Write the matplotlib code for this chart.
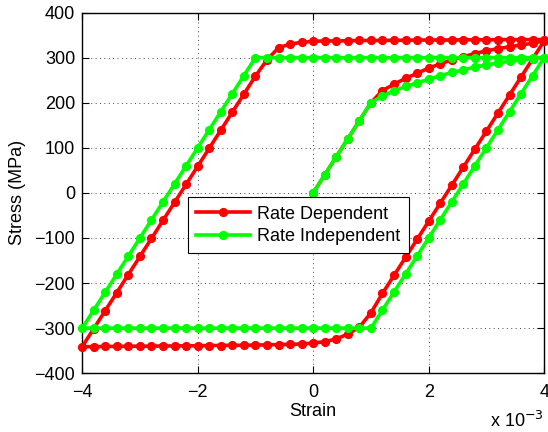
import numpy as np
import matplotlib
matplotlib.use("Agg")
import matplotlib.pyplot as plt

plt.rcParams['font.family'] = ['Liberation Sans', 'DejaVu Sans']

# strain history in units of 1e-3 (0 -> 4 -> -4 -> 4, step 0.2)
strain_up1 = [0.0, 0.2, 0.4, 0.6, 0.8, 1.0, 1.2, 1.4, 1.6, 1.8, 2.0,
              2.2, 2.4, 2.6, 2.8, 3.0, 3.2, 3.4, 3.6, 3.8, 4.0]
strain_down = [3.8, 3.6, 3.4, 3.2, 3.0, 2.8, 2.6, 2.4, 2.2, 2.0,
               1.8, 1.6, 1.4, 1.2, 1.0, 0.8, 0.6, 0.4, 0.2, 0.0,
               -0.2, -0.4, -0.6, -0.8, -1.0, -1.2, -1.4, -1.6, -1.8, -2.0,
               -2.2, -2.4, -2.6, -2.8, -3.0, -3.2, -3.4, -3.6, -3.8, -4.0]
strain_up2 = [-3.8, -3.6, -3.4, -3.2, -3.0, -2.8, -2.6, -2.4, -2.2, -2.0,
              -1.8, -1.6, -1.4, -1.2, -1.0, -0.8, -0.6, -0.4, -0.2, 0.0,
              0.2, 0.4, 0.6, 0.8, 1.0, 1.2, 1.4, 1.6, 1.8, 2.0,
              2.2, 2.4, 2.6, 2.8, 3.0, 3.2, 3.4, 3.6, 3.8, 4.0]

# rate dependent stress (MPa)
dep_up1 = [0, 40, 80, 120, 160, 200, 227, 241, 254, 265, 277,
           286, 295, 302, 309, 315, 320, 324, 328, 332, 337]
dep_down = [297, 257, 217, 177, 137, 97, 57, 17, -23, -63,
            -103, -143, -183, -223, -266, -298, -313, -324, -330, -333,
            -335, -336, -336.5, -337, -337.5, -338, -338, -338.5, -338.5, -339,
            -339, -339.5, -339.5, -340, -340, -340, -340.5, -340.5, -341, -341]
dep_up2 = [-301, -261, -221, -181, -141, -101, -61, -21, 19, 59,
           99, 139, 179, 219, 259, 295, 322, 330, 334, 336,
           337, 337, 337.5, 338, 338, 338, 338.5, 338.5, 339, 339,
           339, 339, 339.5, 339.5, 339.5, 340, 340, 340, 340, 340]

# rate independent stress (MPa)
ind_up1 = [0, 40, 80, 120, 160, 200, 215, 226, 236, 244, 252,
           260, 267, 273, 279, 284, 288, 292, 295, 298, 300]
ind_down = [260, 220, 180, 140, 100, 60, 20, -20, -60, -100,
            -140, -180, -220, -260, -300, -300, -300, -300, -300, -300,
            -300, -300, -300, -300, -300, -300, -300, -300, -300, -300,
            -300, -300, -300, -300, -300, -300, -300, -300, -300, -300]
ind_up2 = [-260, -220, -180, -140, -100, -60, -20, 20, 60, 100,
           140, 180, 220, 260, 300, 300, 300, 300, 300, 300,
           300, 300, 300, 300, 300, 300, 300, 300, 300, 300,
           300, 300, 300, 300, 300, 300, 300, 300, 300, 300]

strain = strain_up1 + strain_down + strain_up2
stress_dep = dep_up1 + dep_down + dep_up2
stress_ind = ind_up1 + ind_down + ind_up2

fig = plt.figure(figsize=(5.48, 4.32), dpi=100)
ax = fig.add_axes([0.150, 0.136, 0.843, 0.835])

ax.plot(strain, stress_dep, '-o', color='#ff0000', lw=2.6, ms=5.6,
        label='Rate Dependent', clip_on=False, zorder=3)
ax.plot(strain, stress_ind, '-o', color='#00ff00', lw=2.6, ms=5.6,
        label='Rate Independent', clip_on=False, zorder=3)

ax.set_xlim(-4, 4)
ax.set_ylim(-400, 400)
ax.set_xticks([-4, -2, 0, 2, 4])
ax.set_yticks(np.arange(-400, 401, 100))
ax.grid(True, linestyle=(0, (1, 3.5)), color='#444444', lw=0.7)
ax.tick_params(direction='in', top=True, right=True, labelsize=13, length=5)
ax.tick_params(axis='x', pad=8)
ax.tick_params(axis='y', pad=5)
for sp in ax.spines.values():
    sp.set_linewidth(1.0)

ax.set_xlabel('Strain', fontsize=13, labelpad=1)
ax.set_ylabel('Stress (MPa)', fontsize=13, labelpad=6)
ax.text(1.0, -0.148, r'x 10$^{-3}$', transform=ax.transAxes, ha='right', va='baseline', fontsize=13)

leg = ax.legend(loc='lower left', bbox_to_anchor=(0.228, 0.333, 0.48, 0.158), mode='expand',
                fontsize=13, fancybox=False, edgecolor='black', framealpha=1,
                handlelength=3.0, handletextpad=0.4, borderaxespad=0, labelspacing=0.3,
                borderpad=0.45)
leg.get_frame().set_linewidth(0.8)

fig.savefig('out.png', dpi=100)
